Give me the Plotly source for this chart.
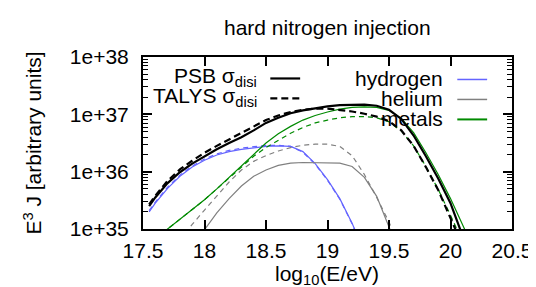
import numpy as np
import plotly.graph_objects as go

# ---- data (log10 of E^3 J) ----
x_total = [17.55, 17.6, 17.7, 17.8, 17.9, 18.0, 18.1, 18.2, 18.3, 18.4, 18.5, 18.6, 18.7, 18.8, 18.9,
           19.0, 19.1, 19.2, 19.3, 19.4, 19.5, 19.6, 19.7, 19.8, 19.9, 20.0, 20.1]
psb_total = [35.40, 35.55, 35.80, 35.99, 36.14, 36.27, 36.39, 36.50, 36.60, 36.72, 36.85, 36.94, 37.02,
             37.07, 37.11, 37.14, 37.16, 37.17, 37.17, 37.15, 37.08, 36.92, 36.63, 36.27, 35.88, 35.45, 34.87]
talys_total = [35.43, 35.58, 35.84, 36.04, 36.19, 36.33, 36.45, 36.56, 36.67, 36.79, 36.90, 36.98, 37.04,
               37.08, 37.10, 37.10, 37.08, 37.05, 37.01, 36.96, 36.88, 36.72, 36.45, 36.08, 35.68, 35.20, 34.70]

x_h = [17.55, 17.6, 17.7, 17.8, 17.9, 18.0, 18.1, 18.2, 18.3, 18.4, 18.5, 18.6, 18.7, 18.8, 18.9,
       19.0, 19.1, 19.2, 19.3]
psb_h = [35.30, 35.45, 35.71, 35.92, 36.08, 36.20, 36.29, 36.35, 36.39, 36.42, 36.44, 36.45, 36.44,
         36.35, 36.14, 35.86, 35.53, 35.10, 34.60]
talys_h = [35.32, 35.47, 35.73, 35.94, 36.10, 36.22, 36.31, 36.37, 36.41, 36.44, 36.46, 36.46, 36.44,
           36.34, 36.13, 35.85, 35.52, 35.09, 34.60]

x_he = [17.8, 17.9, 18.0, 18.1, 18.2, 18.3, 18.4, 18.5, 18.6, 18.7, 18.8, 18.9, 19.0, 19.1, 19.2,
        19.3, 19.4, 19.5, 19.6]
psb_he = [34.40, 34.70, 34.98, 35.28, 35.53, 35.75, 35.92, 36.03, 36.11, 36.15, 36.16, 36.16, 36.16,
          36.15, 36.09, 35.90, 35.57, 35.05, 34.50]
talys_he = [34.80, 35.08, 35.33, 35.58, 35.82, 36.03, 36.18, 36.28, 36.36, 36.42, 36.46, 36.48, 36.48,
            36.44, 36.28, 35.95, 35.55, 35.12, 34.60]

x_m = [17.6, 17.7, 17.8, 17.9, 18.0, 18.1, 18.2, 18.3, 18.4, 18.5, 18.6, 18.7, 18.8, 18.9, 19.0,
       19.1, 19.2, 19.3, 19.4, 19.5, 19.6, 19.7, 19.8, 19.9, 20.0, 20.1, 20.2]
psb_m = [34.83, 35.00, 35.16, 35.33, 35.51, 35.70, 35.90, 36.10, 36.31, 36.50, 36.66, 36.79, 36.90,
         36.98, 37.04, 37.09, 37.12, 37.13, 37.12, 37.07, 36.93, 36.68, 36.33, 35.95, 35.53, 35.06, 34.60]
talys_m = [34.83, 35.00, 35.16, 35.33, 35.51, 35.70, 35.89, 36.08, 36.27, 36.42, 36.55, 36.67, 36.77,
           36.85, 36.90, 36.94, 36.96, 36.96, 36.94, 36.87, 36.71, 36.45, 36.09, 35.69, 35.24, 34.75, 34.30]

y_tickvals = [1e35, 1e36, 1e37, 1e38]
y_ticktext = ["1e+35", "1e+36", "1e+37", "1e+38"]
x_tickvals = [17.5, 18, 18.5, 19, 19.5, 20, 20.5]
x_ticktext = ["17.5", "18", "18.5", "19", "19.5", "20", "20.5"]

title_text = "hard nitrogen injection"
xlabel = "log<sub>10</sub>(E/eV)"
ylabel = "E<sup>3</sup> J [arbitrary units]"

BLACK = "#000000"
BLUE = "#6464ff"
GRAY = "#808080"
GREEN = "#008a00"

FONT = "Liberation Sans, Arial, sans-serif"
FS = 21

W, H = 536, 287
L, R, T, B = 135, 506, 48.5, 220.7


def pxx(px):
    return (px - L) / (R - L)


def pxy(py):
    return (B - py) / (B - T)


def ylin(v):
    return [10 ** a for a in v]


fig = go.Figure()
series = [
    (x_h, psb_h, BLUE, 1.2, "solid"),
    (x_h, talys_h, BLUE, 1.2, "5px,4px"),
    (x_he, psb_he, GRAY, 1.2, "solid"),
    (x_he, talys_he, GRAY, 1.2, "5px,4px"),
    (x_m, psb_m, GREEN, 1.2, "solid"),
    (x_m, talys_m, GREEN, 1.2, "5px,4px"),
    (x_total, psb_total, BLACK, 2.2, "solid"),
    (x_total, talys_total, BLACK, 2.2, "7px,4px"),
]
for xs, ys, c, w, d in series:
    fig.add_trace(go.Scatter(x=xs, y=ylin(ys), mode="lines",
                             line=dict(color=c, width=w, dash=d),
                             showlegend=False, hoverinfo="skip"))

fig.update_layout(
    width=W, height=H,
    margin=dict(l=L, r=W - R, t=T, b=H - B, pad=0),
    paper_bgcolor="white", plot_bgcolor="white",
    font=dict(family=FONT, size=FS, color="black"),
    showlegend=False,
)
fig.update_xaxes(
    range=[17.5, 20.5], tickvals=x_tickvals, ticktext=x_ticktext,
    ticks="inside", ticklen=9, tickwidth=1.5, tickcolor="black",
    showline=True, linewidth=2, linecolor="black", mirror="allticks",
    showgrid=False, zeroline=False, ticklabelstandoff=2,
)
fig.update_yaxes(
    type="log", range=[35, 38], tickvals=y_tickvals, ticktext=y_ticktext,
    ticks="inside", ticklen=9, tickwidth=1.5, tickcolor="black",
    minor=dict(ticks="inside", ticklen=5, tickwidth=1, tickcolor="black", dtick="D1", showgrid=False),
    showline=True, linewidth=2, linecolor="black", mirror="allticks",
    showgrid=False, zeroline=False, ticklabelstandoff=8,
    title=dict(text=ylabel, standoff=22, font=dict(size=FS)),
)

ann = []
ann.append(dict(text=title_text, x=pxx(320), y=pxy(19), xref="paper", yref="paper",
                xanchor="center", yanchor="middle", showarrow=False, font=dict(size=FS)))
ann.append(dict(text=xlabel, x=pxx(320), y=pxy(267), xref="paper", yref="paper",
                xanchor="center", yanchor="middle", showarrow=False, font=dict(size=FS)))
legend_left = [("PSB σ<sub>disi</sub>", 69, BLACK, 2.2, "solid"),
               ("TALYS σ<sub>disi</sub>", 89, BLACK, 2.2, "7px,4px")]
legend_right = [("hydrogen", 70, BLUE, 1.5, "solid"),
                ("helium", 90, GRAY, 1.5, "solid"),
                ("metals", 110, GREEN, 2, "solid")]
shapes = []
for txt, py, c, w, d in legend_left:
    ann.append(dict(text=txt, x=pxx(252), y=pxy(py), xref="paper", yref="paper",
                    xanchor="right", yanchor="middle", showarrow=False, font=dict(size=FS)))
    shapes.append(dict(type="line", xref="paper", yref="paper", x0=pxx(263), x1=pxx(293),
                       y0=pxy(py + 1), y1=pxy(py + 1), line=dict(color=c, width=w, dash=d)))
for txt, py, c, w, d in legend_right:
    ann.append(dict(text=txt, x=pxx(439), y=pxy(py), xref="paper", yref="paper",
                    xanchor="right", yanchor="middle", showarrow=False, font=dict(size=FS)))
    shapes.append(dict(type="line", xref="paper", yref="paper", x0=pxx(451), x1=pxx(481),
                       y0=pxy(py + 1), y1=pxy(py + 1), line=dict(color=c, width=w, dash=d)))
fig.update_layout(annotations=ann, shapes=shapes)

fig.write_html("out.html")
